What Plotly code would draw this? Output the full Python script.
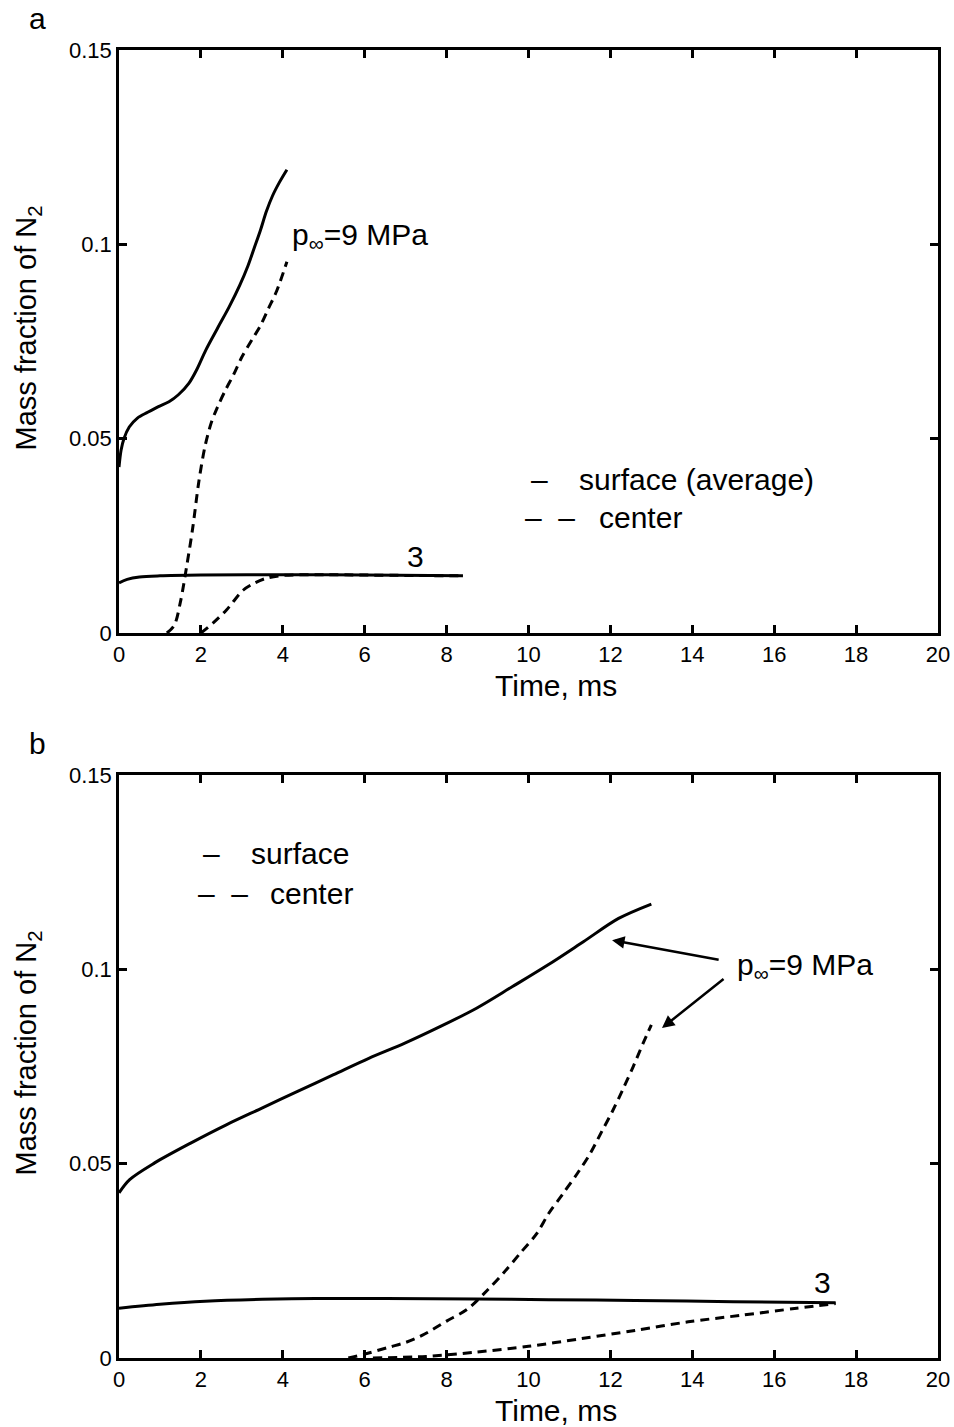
import plotly.graph_objects as go

# ---------------- data ----------------
# Panel a : average surface vs center, p = 9 MPa and 3 MPa
a_surf9_t = [0, 0.05, 0.12, 0.25, 0.45, 0.7, 0.95, 1.22, 1.45, 1.71, 1.9, 2.12, 2.4, 2.69, 2.95, 3.15, 3.3, 3.45, 3.6, 3.75, 3.92, 4.1]
a_surf9_y = [0.0427, 0.047, 0.050, 0.053, 0.0553, 0.0568, 0.0582, 0.0595, 0.0613, 0.0643, 0.0678, 0.0728, 0.0783, 0.0839, 0.0895, 0.0945, 0.0990, 0.1035, 0.1085, 0.1125, 0.116, 0.1192]
a_cent9_t = [1.17, 1.35, 1.5, 1.65, 1.8, 1.95, 2.1, 2.25, 2.4, 2.6, 2.8, 3.0, 3.25, 3.45, 3.65, 3.85, 4.1]
a_cent9_y = [0.0, 0.002, 0.008, 0.017, 0.027, 0.039, 0.048, 0.054, 0.058, 0.0625, 0.0665, 0.071, 0.0755, 0.079, 0.0835, 0.088, 0.0955]
a_surf3_t = [0, 0.2, 0.5, 1.0, 2.0, 4.0, 6.0, 8.4]
a_surf3_y = [0.0129, 0.0138, 0.0144, 0.0147, 0.0149, 0.015, 0.0149, 0.0147]
a_cent3_t = [2.0, 2.3, 2.63, 3.03, 3.3, 3.6, 4.0, 5.0, 6.0, 8.4]
a_cent3_y = [0.0, 0.0026, 0.006, 0.011, 0.0128, 0.0141, 0.0148, 0.015, 0.0149, 0.0147]

# Panel b : surface vs center, p = 9 MPa and 3 MPa
b_surf9_t = [0, 0.26, 0.87, 1.75, 2.62, 3.49, 4.36, 5.24, 6.1, 6.98, 7.85, 8.73, 9.6, 10.47, 11.34, 12.2, 13.0]
b_surf9_y = [0.0425, 0.0459, 0.0502, 0.0553, 0.060, 0.0643, 0.0686, 0.0729, 0.0771, 0.081, 0.0853, 0.090, 0.0955, 0.1011, 0.1071, 0.1131, 0.1168]
b_cent9_t = [5.6, 6.0, 6.6, 7.0, 7.4, 8.0, 8.5, 9.0, 9.4, 9.8, 10.2, 10.5, 10.85, 11.2, 11.5, 11.8, 12.05, 12.3, 12.55, 12.8, 13.0]
b_cent9_y = [0.0, 0.001, 0.0028, 0.004, 0.0058, 0.0095, 0.0125, 0.0175, 0.022, 0.027, 0.032, 0.0373, 0.0424, 0.0476, 0.0525, 0.0585, 0.0635, 0.069, 0.0748, 0.081, 0.0857]
b_surf3_t = [0, 1.0, 2.1, 3.5, 4.8, 6.5, 8.7, 10.5, 12.6, 15.0, 17.5]
b_surf3_y = [0.0128, 0.0138, 0.0146, 0.0151, 0.0153, 0.0153, 0.0152, 0.015, 0.0148, 0.0145, 0.0142]
b_cent3_t = [6.2, 7.5, 8.7, 10.0, 11.3, 12.6, 13.9, 15.2, 16.55, 17.5]
b_cent3_y = [0.0, 0.0004, 0.0015, 0.003, 0.005, 0.0071, 0.0093, 0.011, 0.0128, 0.014]

x_ticks = [0, 2, 4, 6, 8, 10, 12, 14, 16, 18, 20]
y_ticks = [0, 0.05, 0.1, 0.15]
y_ticktext = ["0", "0.05", "0.1", "0.15"]

# ---------------- figure ----------------
W, H = 954, 1427
FONT = "Liberation Sans, Arial, sans-serif"
LW = 3
DASH = "9px,6px"

fig = go.Figure()

def add(t, y, dash, xa, ya):
    fig.add_trace(go.Scatter(
        x=t, y=y, mode="lines", xaxis=xa, yaxis=ya, showlegend=False,
        line=dict(color="black", width=LW, dash=dash, shape="spline", smoothing=0.9),
        hoverinfo="skip"))

add(a_surf9_t, a_surf9_y, "solid", "x", "y")
add(a_cent9_t, a_cent9_y, DASH, "x", "y")
add(a_surf3_t, a_surf3_y, "solid", "x", "y")
add(a_cent3_t, a_cent3_y, DASH, "x", "y")
add(b_surf9_t, b_surf9_y, "solid", "x2", "y2")
add(b_cent9_t, b_cent9_y, DASH, "x2", "y2")
add(b_surf3_t, b_surf3_y, "solid", "x2", "y2")
add(b_cent3_t, b_cent3_y, DASH, "x2", "y2")

x0, x1 = 119 / W, 938 / W
ya_dom = [1 - 633 / H, 1 - 50 / H]
yb_dom = [1 - 1358 / H, 1 - 775 / H]

axis_common = dict(
    showline=True, linecolor="black", linewidth=2.5, mirror="ticks",
    ticks="inside", ticklen=8, tickwidth=2.5, tickcolor="black",
    showgrid=False, zeroline=False, automargin=False,
    tickfont=dict(family=FONT, size=22, color="black"),
)

fig.update_layout(
    template="none",
    width=W, height=H, margin=dict(l=0, r=0, t=0, b=0, autoexpand=False),
    paper_bgcolor="white", plot_bgcolor="white",
    xaxis=dict(domain=[x0, x1], range=[0, 20], tickvals=x_ticks, anchor="y", **axis_common),
    yaxis=dict(domain=ya_dom, range=[0, 0.15], tickvals=y_ticks, ticktext=y_ticktext, anchor="x", **axis_common),
    xaxis2=dict(domain=[x0, x1], range=[0, 20], tickvals=x_ticks, anchor="y2", **axis_common),
    yaxis2=dict(domain=yb_dom, range=[0, 0.15], tickvals=y_ticks, ticktext=y_ticktext, anchor="x2", **axis_common),
)

ann = []

def txt(x, y, s, xref, yref, xanchor="left", yanchor="middle", size=30, angle=0):
    ann.append(dict(x=x, y=y, xref=xref, yref=yref, text=s, showarrow=False,
                    xanchor=xanchor, yanchor=yanchor, textangle=angle,
                    font=dict(family=FONT, size=size, color="black")))

# panel letters
txt(37 / W, 1 - 18 / H, "a", "paper", "paper", "center", "middle", 30)
txt(37 / W, 1 - 743 / H, "b", "paper", "paper", "center", "middle", 30)

# axis titles
for top, bot in [(50, 633), (775, 1358)]:
    txt(27 / W, 1 - ((top + bot) / 2 - 13) / H, "Mass fraction of N<sub>2</sub>", "paper", "paper", "center", "middle", 29, -90)
    txt(556 / W, 1 - (bot + 52) / H, "Time, ms", "paper", "paper", "center", "middle", 30)

# panel a labels
txt(4.18, 0.1019, "p<sub>∞</sub>=9 MPa", "x", "y")
txt(7.23, 0.0198, "3", "x", "y", "center")
txt(10.26, 0.0394, "–", "x", "y", "center")
txt(11.18, 0.0394, "surface (average)", "x", "y")
txt(10.52, 0.0296, "–  –", "x", "y", "center")
txt(11.67, 0.0296, "center", "x", "y")

# panel b labels
txt(15.04, 0.1008, "p<sub>∞</sub>=9 MPa", "x2", "y2")
txt(17.17, 0.0193, "3", "x2", "y2", "center")
txt(2.27, 0.1299, "–", "x2", "y2", "center")
txt(3.17, 0.1299, "surface", "x2", "y2")
txt(2.54, 0.1196, "–  –", "x2", "y2", "center")
txt(3.64, 0.1196, "center", "x2", "y2")

# arrows in panel b
for (tx, ty, hx, hy) in [(14.68, 0.1024, 12.04, 0.1075), (14.8, 0.0978, 13.26, 0.0849)]:
    ann.append(dict(x=hx, y=hy, ax=tx, ay=ty, xref="x2", yref="y2", axref="x2", ayref="y2",
                    text="", showarrow=True, arrowhead=2, arrowsize=1, arrowwidth=2.5,
                    arrowcolor="black"))

fig.update_layout(annotations=ann)
fig.write_html("out.html")
